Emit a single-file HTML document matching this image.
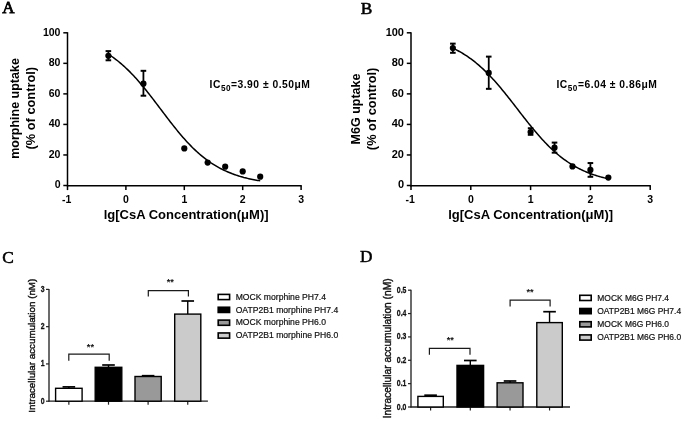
<!DOCTYPE html>
<html><head><meta charset="utf-8"><style>
html,body{margin:0;padding:0;background:#fff;}
body{width:685px;height:421px;overflow:hidden;position:relative;}
svg{position:absolute;left:0;top:0;filter:grayscale(1) blur(0.3px);}
</style></head><body>
<svg width="685" height="421" viewBox="0 0 685 421">
<text x="2.20" y="13.40" font-family='"Liberation Serif", serif' font-size="17" font-weight="normal" text-anchor="start" fill="#000" stroke="#000" stroke-width="0.8">A</text>
<text x="360.80" y="13.70" font-family='"Liberation Serif", serif' font-size="17.3" font-weight="normal" text-anchor="start" fill="#000" stroke="#000" stroke-width="0.55">B</text>
<text x="2.30" y="262.60" font-family='"Liberation Serif", serif' font-size="17.3" font-weight="normal" text-anchor="start" fill="#000" stroke="#000" stroke-width="0.55">C</text>
<text x="360.00" y="262.30" font-family='"Liberation Serif", serif' font-size="17.3" font-weight="normal" text-anchor="start" fill="#000" stroke="#000" stroke-width="0.55">D</text>
<line x1="67.50" y1="32.20" x2="67.50" y2="186.40" stroke="#000" stroke-width="1.5"/>
<line x1="63.30" y1="185.50" x2="67.50" y2="185.50" stroke="#000" stroke-width="1.5"/>
<text x="60.50" y="188.25" font-family='"Liberation Sans", sans-serif' font-size="11" font-weight="bold" text-anchor="end" fill="#000" textLength="5.87" lengthAdjust="spacingAndGlyphs">0</text>
<line x1="63.30" y1="154.96" x2="67.50" y2="154.96" stroke="#000" stroke-width="1.5"/>
<text x="60.50" y="157.71" font-family='"Liberation Sans", sans-serif' font-size="11" font-weight="bold" text-anchor="end" fill="#000" textLength="11.74" lengthAdjust="spacingAndGlyphs">20</text>
<line x1="63.30" y1="124.42" x2="67.50" y2="124.42" stroke="#000" stroke-width="1.5"/>
<text x="60.50" y="127.17" font-family='"Liberation Sans", sans-serif' font-size="11" font-weight="bold" text-anchor="end" fill="#000" textLength="11.74" lengthAdjust="spacingAndGlyphs">40</text>
<line x1="63.30" y1="93.88" x2="67.50" y2="93.88" stroke="#000" stroke-width="1.5"/>
<text x="60.50" y="96.63" font-family='"Liberation Sans", sans-serif' font-size="11" font-weight="bold" text-anchor="end" fill="#000" textLength="11.74" lengthAdjust="spacingAndGlyphs">60</text>
<line x1="63.30" y1="63.34" x2="67.50" y2="63.34" stroke="#000" stroke-width="1.5"/>
<text x="60.50" y="66.09" font-family='"Liberation Sans", sans-serif' font-size="11" font-weight="bold" text-anchor="end" fill="#000" textLength="11.74" lengthAdjust="spacingAndGlyphs">80</text>
<line x1="63.30" y1="32.80" x2="67.50" y2="32.80" stroke="#000" stroke-width="1.5"/>
<text x="60.50" y="35.55" font-family='"Liberation Sans", sans-serif' font-size="11" font-weight="bold" text-anchor="end" fill="#000" textLength="17.61" lengthAdjust="spacingAndGlyphs">100</text>
<line x1="66.90" y1="185.70" x2="301.70" y2="185.70" stroke="#000" stroke-width="1.6"/>
<line x1="67.50" y1="185.50" x2="67.50" y2="190.10" stroke="#000" stroke-width="1.5"/>
<text x="66.70" y="202.90" font-family='"Liberation Sans", sans-serif' font-size="10.5" font-weight="bold" text-anchor="middle" fill="#000" >-1</text>
<line x1="125.90" y1="185.50" x2="125.90" y2="190.10" stroke="#000" stroke-width="1.5"/>
<text x="125.90" y="202.90" font-family='"Liberation Sans", sans-serif' font-size="10.5" font-weight="bold" text-anchor="middle" fill="#000" >0</text>
<line x1="184.30" y1="185.50" x2="184.30" y2="190.10" stroke="#000" stroke-width="1.5"/>
<text x="184.30" y="202.90" font-family='"Liberation Sans", sans-serif' font-size="10.5" font-weight="bold" text-anchor="middle" fill="#000" >1</text>
<line x1="242.70" y1="185.50" x2="242.70" y2="190.10" stroke="#000" stroke-width="1.5"/>
<text x="242.70" y="202.90" font-family='"Liberation Sans", sans-serif' font-size="10.5" font-weight="bold" text-anchor="middle" fill="#000" >2</text>
<line x1="301.10" y1="185.50" x2="301.10" y2="190.10" stroke="#000" stroke-width="1.5"/>
<text x="301.10" y="202.90" font-family='"Liberation Sans", sans-serif' font-size="10.5" font-weight="bold" text-anchor="middle" fill="#000" >3</text>
<text x="186.10" y="219.00" font-family='"Liberation Sans", sans-serif' font-size="13" font-weight="bold" text-anchor="middle" fill="#000" >lg[CsA Concentration(μM)]</text>
<text transform="translate(19.30,108.50) rotate(-90)" font-family='"Liberation Sans", sans-serif' font-size="12.5" font-weight="bold" text-anchor="middle">morphine uptake</text>
<text transform="translate(34.80,108.20) rotate(-90)" font-family='"Liberation Sans", sans-serif' font-size="12.8" font-weight="bold" text-anchor="middle">(% of control)</text>
<polyline points="108.38,54.21 109.65,55.03 110.91,55.88 112.18,56.75 113.44,57.65 114.71,58.58 115.97,59.53 117.24,60.52 118.50,61.53 119.77,62.56 121.03,63.63 122.30,64.72 123.56,65.85 124.83,67.00 126.09,68.18 127.36,69.38 128.63,70.62 129.89,71.88 131.16,73.17 132.42,74.49 133.69,75.83 134.95,77.20 136.22,78.60 137.48,80.02 138.75,81.46 140.01,82.93 141.28,84.42 142.54,85.93 143.81,87.46 145.07,89.01 146.34,90.58 147.61,92.16 148.87,93.76 150.14,95.38 151.40,97.01 152.67,98.65 153.93,100.29 155.20,101.95 156.46,103.62 157.73,105.29 158.99,106.96 160.26,108.63 161.52,110.31 162.79,111.98 164.05,113.66 165.32,115.32 166.59,116.99 167.85,118.64 169.12,120.29 170.38,121.92 171.65,123.54 172.91,125.15 174.18,126.75 175.44,128.33 176.71,129.89 177.97,131.43 179.24,132.95 180.50,134.46 181.77,135.94 183.03,137.40 184.30,138.83 185.57,140.24 186.83,141.63 188.10,142.99 189.36,144.32 190.63,145.63 191.89,146.91 193.16,148.16 194.42,149.38 195.69,150.58 196.95,151.75 198.22,152.89 199.48,154.00 200.75,155.08 202.01,156.14 203.28,157.17 204.55,158.17 205.81,159.14 207.08,160.08 208.34,161.00 209.61,161.89 210.87,162.75 212.14,163.59 213.40,164.40 214.67,165.18 215.93,165.94 217.20,166.68 218.46,167.39 219.73,168.08 220.99,168.75 222.26,169.39 223.53,170.01 224.79,170.61 226.06,171.19 227.32,171.75 228.59,172.29 229.85,172.81 231.12,173.31 232.38,173.80 233.65,174.26 234.91,174.71 236.18,175.14 237.44,175.56 238.71,175.96 239.97,176.35 241.24,176.72 242.51,177.07 243.77,177.42 245.04,177.74 246.30,178.06 247.57,178.37 248.83,178.66 250.10,178.94 251.36,179.21 252.63,179.47 253.89,179.72 255.16,179.96 256.42,180.19 257.69,180.41 258.95,180.62 260.22,180.82" fill="none" stroke="#000" stroke-width="1.5"/>
<line x1="108.38" y1="51.12" x2="108.38" y2="60.29" stroke="#000" stroke-width="1.8"/>
<line x1="105.58" y1="51.12" x2="111.18" y2="51.12" stroke="#000" stroke-width="2.0"/>
<line x1="105.58" y1="60.29" x2="111.18" y2="60.29" stroke="#000" stroke-width="2.0"/>
<circle cx="108.38" cy="55.86" r="3.1" fill="#000"/>
<line x1="143.42" y1="70.82" x2="143.42" y2="95.71" stroke="#000" stroke-width="1.8"/>
<line x1="140.62" y1="70.82" x2="146.22" y2="70.82" stroke="#000" stroke-width="2.0"/>
<line x1="140.62" y1="95.71" x2="146.22" y2="95.71" stroke="#000" stroke-width="2.0"/>
<circle cx="143.42" cy="83.65" r="3.1" fill="#000"/>
<circle cx="184.30" cy="148.39" r="3.1" fill="#000"/>
<circle cx="207.66" cy="162.59" r="3.1" fill="#000"/>
<circle cx="225.18" cy="166.72" r="3.1" fill="#000"/>
<circle cx="242.70" cy="171.45" r="3.1" fill="#000"/>
<circle cx="260.22" cy="176.64" r="3.1" fill="#000"/>
<text x="209.60" y="88.30" font-family='"Liberation Sans", sans-serif' font-size="10.3" font-weight="bold" letter-spacing="0.5">IC<tspan font-size="8.2" dy="3.0">50</tspan><tspan dy="-3.0">=3.90 ± 0.50μM</tspan></text>
<line x1="411.00" y1="32.20" x2="411.00" y2="186.40" stroke="#000" stroke-width="1.5"/>
<line x1="406.80" y1="185.50" x2="411.00" y2="185.50" stroke="#000" stroke-width="1.5"/>
<text x="404.00" y="188.25" font-family='"Liberation Sans", sans-serif' font-size="11" font-weight="bold" text-anchor="end" fill="#000" textLength="6.12" lengthAdjust="spacingAndGlyphs">0</text>
<line x1="406.80" y1="154.96" x2="411.00" y2="154.96" stroke="#000" stroke-width="1.5"/>
<text x="404.00" y="157.71" font-family='"Liberation Sans", sans-serif' font-size="11" font-weight="bold" text-anchor="end" fill="#000" textLength="12.23" lengthAdjust="spacingAndGlyphs">20</text>
<line x1="406.80" y1="124.42" x2="411.00" y2="124.42" stroke="#000" stroke-width="1.5"/>
<text x="404.00" y="127.17" font-family='"Liberation Sans", sans-serif' font-size="11" font-weight="bold" text-anchor="end" fill="#000" textLength="12.23" lengthAdjust="spacingAndGlyphs">40</text>
<line x1="406.80" y1="93.88" x2="411.00" y2="93.88" stroke="#000" stroke-width="1.5"/>
<text x="404.00" y="96.63" font-family='"Liberation Sans", sans-serif' font-size="11" font-weight="bold" text-anchor="end" fill="#000" textLength="12.23" lengthAdjust="spacingAndGlyphs">60</text>
<line x1="406.80" y1="63.34" x2="411.00" y2="63.34" stroke="#000" stroke-width="1.5"/>
<text x="404.00" y="66.09" font-family='"Liberation Sans", sans-serif' font-size="11" font-weight="bold" text-anchor="end" fill="#000" textLength="12.23" lengthAdjust="spacingAndGlyphs">80</text>
<line x1="406.80" y1="32.80" x2="411.00" y2="32.80" stroke="#000" stroke-width="1.5"/>
<text x="404.00" y="35.55" font-family='"Liberation Sans", sans-serif' font-size="11" font-weight="bold" text-anchor="end" fill="#000" textLength="18.35" lengthAdjust="spacingAndGlyphs">100</text>
<line x1="410.40" y1="185.70" x2="650.80" y2="185.70" stroke="#000" stroke-width="1.6"/>
<line x1="411.00" y1="185.50" x2="411.00" y2="190.10" stroke="#000" stroke-width="1.5"/>
<text x="410.20" y="202.90" font-family='"Liberation Sans", sans-serif' font-size="10.5" font-weight="bold" text-anchor="middle" fill="#000" >-1</text>
<line x1="470.80" y1="185.50" x2="470.80" y2="190.10" stroke="#000" stroke-width="1.5"/>
<text x="470.80" y="202.90" font-family='"Liberation Sans", sans-serif' font-size="10.5" font-weight="bold" text-anchor="middle" fill="#000" >0</text>
<line x1="530.60" y1="185.50" x2="530.60" y2="190.10" stroke="#000" stroke-width="1.5"/>
<text x="530.60" y="202.90" font-family='"Liberation Sans", sans-serif' font-size="10.5" font-weight="bold" text-anchor="middle" fill="#000" >1</text>
<line x1="590.40" y1="185.50" x2="590.40" y2="190.10" stroke="#000" stroke-width="1.5"/>
<text x="590.40" y="202.90" font-family='"Liberation Sans", sans-serif' font-size="10.5" font-weight="bold" text-anchor="middle" fill="#000" >2</text>
<line x1="650.20" y1="185.50" x2="650.20" y2="190.10" stroke="#000" stroke-width="1.5"/>
<text x="650.20" y="202.90" font-family='"Liberation Sans", sans-serif' font-size="10.5" font-weight="bold" text-anchor="middle" fill="#000" >3</text>
<text x="530.60" y="219.00" font-family='"Liberation Sans", sans-serif' font-size="13" font-weight="bold" text-anchor="middle" fill="#000" >lg[CsA Concentration(μM)]</text>
<text transform="translate(360.00,109.00) rotate(-90)" font-family='"Liberation Sans", sans-serif' font-size="12.5" font-weight="bold" text-anchor="middle">M6G uptake</text>
<text transform="translate(375.60,108.90) rotate(-90)" font-family='"Liberation Sans", sans-serif' font-size="12.8" font-weight="bold" text-anchor="middle">(% of control)</text>
<polyline points="452.86,48.16 454.16,48.78 455.45,49.42 456.75,50.08 458.04,50.77 459.34,51.47 460.63,52.21 461.93,52.96 463.23,53.74 464.52,54.55 465.82,55.38 467.11,56.24 468.41,57.12 469.70,58.03 471.00,58.97 472.30,59.94 473.59,60.93 474.89,61.95 476.18,63.00 477.48,64.08 478.77,65.19 480.07,66.32 481.36,67.48 482.66,68.67 483.96,69.89 485.25,71.14 486.55,72.41 487.84,73.72 489.14,75.04 490.43,76.40 491.73,77.78 493.03,79.19 494.32,80.62 495.62,82.07 496.91,83.55 498.21,85.04 499.50,86.56 500.80,88.10 502.10,89.66 503.39,91.23 504.69,92.83 505.98,94.43 507.28,96.05 508.57,97.69 509.87,99.33 511.17,100.98 512.46,102.64 513.76,104.31 515.05,105.98 516.35,107.65 517.64,109.33 518.94,111.01 520.23,112.68 521.53,114.35 522.83,116.02 524.12,117.67 525.42,119.33 526.71,120.97 528.01,122.60 529.30,124.21 530.60,125.82 531.90,127.41 533.19,128.98 534.49,130.53 535.78,132.07 537.08,133.58 538.37,135.07 539.67,136.55 540.97,137.99 542.26,139.42 543.56,140.82 544.85,142.19 546.15,143.54 547.44,144.87 548.74,146.16 550.03,147.43 551.33,148.67 552.63,149.88 553.92,151.07 555.22,152.23 556.51,153.35 557.81,154.45 559.10,155.53 560.40,156.57 561.70,157.58 562.99,158.57 564.29,159.53 565.58,160.46 566.88,161.37 568.17,162.25 569.47,163.10 570.77,163.93 572.06,164.73 573.36,165.50 574.65,166.25 575.95,166.98 577.24,167.68 578.54,168.36 579.84,169.02 581.13,169.65 582.43,170.27 583.72,170.86 585.02,171.43 586.31,171.98 587.61,172.51 588.90,173.02 590.20,173.52 591.50,173.99 592.79,174.45 594.09,174.89 595.38,175.32 596.68,175.73 597.97,176.12 599.27,176.50 600.57,176.87 601.86,177.22 603.16,177.55 604.45,177.88 605.75,178.19 607.04,178.49 608.34,178.78" fill="none" stroke="#000" stroke-width="1.5"/>
<line x1="452.86" y1="43.64" x2="452.86" y2="52.80" stroke="#000" stroke-width="1.8"/>
<line x1="450.06" y1="43.64" x2="455.66" y2="43.64" stroke="#000" stroke-width="2.0"/>
<line x1="450.06" y1="52.80" x2="455.66" y2="52.80" stroke="#000" stroke-width="2.0"/>
<circle cx="452.86" cy="48.07" r="3.1" fill="#000"/>
<line x1="488.74" y1="56.62" x2="488.74" y2="88.84" stroke="#000" stroke-width="1.8"/>
<line x1="485.94" y1="56.62" x2="491.54" y2="56.62" stroke="#000" stroke-width="2.0"/>
<line x1="485.94" y1="88.84" x2="491.54" y2="88.84" stroke="#000" stroke-width="2.0"/>
<circle cx="488.74" cy="72.96" r="3.1" fill="#000"/>
<line x1="530.60" y1="128.24" x2="530.60" y2="134.80" stroke="#000" stroke-width="1.8"/>
<line x1="527.80" y1="128.24" x2="533.40" y2="128.24" stroke="#000" stroke-width="2.0"/>
<line x1="527.80" y1="134.80" x2="533.40" y2="134.80" stroke="#000" stroke-width="2.0"/>
<circle cx="530.60" cy="132.06" r="3.1" fill="#000"/>
<line x1="554.52" y1="142.59" x2="554.52" y2="152.67" stroke="#000" stroke-width="1.8"/>
<line x1="551.72" y1="142.59" x2="557.32" y2="142.59" stroke="#000" stroke-width="2.0"/>
<line x1="551.72" y1="152.67" x2="557.32" y2="152.67" stroke="#000" stroke-width="2.0"/>
<circle cx="554.52" cy="147.63" r="3.1" fill="#000"/>
<circle cx="572.46" cy="166.41" r="3.1" fill="#000"/>
<line x1="590.40" y1="163.05" x2="590.40" y2="176.80" stroke="#000" stroke-width="1.8"/>
<line x1="587.60" y1="163.05" x2="593.20" y2="163.05" stroke="#000" stroke-width="2.0"/>
<line x1="587.60" y1="176.80" x2="593.20" y2="176.80" stroke="#000" stroke-width="2.0"/>
<circle cx="590.40" cy="169.92" r="3.1" fill="#000"/>
<circle cx="608.34" cy="177.56" r="3.1" fill="#000"/>
<text x="556.50" y="88.30" font-family='"Liberation Sans", sans-serif' font-size="10.3" font-weight="bold" letter-spacing="0.5">IC<tspan font-size="8.2" dy="3.0">50</tspan><tspan dy="-3.0">=6.04 ± 0.86μM</tspan></text>
<line x1="49.00" y1="288.89" x2="49.00" y2="401.70" stroke="#3a3a3a" stroke-width="1.5"/>
<line x1="46.00" y1="401.20" x2="49.00" y2="401.20" stroke="#222" stroke-width="1.2"/>
<text x="44.60" y="403.70" font-family='"Liberation Sans", sans-serif' font-size="9.3" font-weight="bold" text-anchor="end" fill="#111" stroke="#111" stroke-width="0.3" textLength="3.83" lengthAdjust="spacingAndGlyphs">0</text>
<line x1="46.00" y1="363.93" x2="49.00" y2="363.93" stroke="#222" stroke-width="1.2"/>
<text x="44.60" y="366.43" font-family='"Liberation Sans", sans-serif' font-size="9.3" font-weight="bold" text-anchor="end" fill="#111" stroke="#111" stroke-width="0.3" textLength="3.83" lengthAdjust="spacingAndGlyphs">1</text>
<line x1="46.00" y1="326.66" x2="49.00" y2="326.66" stroke="#222" stroke-width="1.2"/>
<text x="44.60" y="329.16" font-family='"Liberation Sans", sans-serif' font-size="9.3" font-weight="bold" text-anchor="end" fill="#111" stroke="#111" stroke-width="0.3" textLength="3.83" lengthAdjust="spacingAndGlyphs">2</text>
<line x1="46.00" y1="289.39" x2="49.00" y2="289.39" stroke="#222" stroke-width="1.2"/>
<text x="44.60" y="291.89" font-family='"Liberation Sans", sans-serif' font-size="9.3" font-weight="bold" text-anchor="end" fill="#111" stroke="#111" stroke-width="0.3" textLength="3.83" lengthAdjust="spacingAndGlyphs">3</text>
<line x1="48.50" y1="401.20" x2="207.90" y2="401.20" stroke="#222" stroke-width="1.3"/>
<line x1="68.85" y1="401.20" x2="68.85" y2="404.70" stroke="#222" stroke-width="1.2"/>
<line x1="68.85" y1="386.90" x2="68.85" y2="388.30" stroke="#000" stroke-width="1.4"/>
<line x1="62.55" y1="386.90" x2="75.15" y2="386.90" stroke="#000" stroke-width="1.7"/>
<rect x="55.60" y="388.30" width="26.50" height="12.90" fill="#fff" stroke="#000" stroke-width="1.4"/>
<line x1="108.50" y1="401.20" x2="108.50" y2="404.70" stroke="#222" stroke-width="1.2"/>
<line x1="108.50" y1="365.00" x2="108.50" y2="367.30" stroke="#000" stroke-width="1.4"/>
<line x1="102.20" y1="365.00" x2="114.80" y2="365.00" stroke="#000" stroke-width="1.7"/>
<rect x="95.20" y="367.30" width="26.60" height="33.90" fill="#000" stroke="#000" stroke-width="1.4"/>
<line x1="148.10" y1="401.20" x2="148.10" y2="404.70" stroke="#222" stroke-width="1.2"/>
<line x1="148.10" y1="375.70" x2="148.10" y2="376.50" stroke="#000" stroke-width="1.4"/>
<line x1="141.80" y1="375.70" x2="154.40" y2="375.70" stroke="#000" stroke-width="1.7"/>
<rect x="135.00" y="376.50" width="26.20" height="24.70" fill="#999" stroke="#000" stroke-width="1.4"/>
<line x1="187.75" y1="401.20" x2="187.75" y2="404.70" stroke="#222" stroke-width="1.2"/>
<line x1="187.75" y1="301.00" x2="187.75" y2="314.10" stroke="#000" stroke-width="1.4"/>
<line x1="181.45" y1="301.00" x2="194.05" y2="301.00" stroke="#000" stroke-width="1.7"/>
<rect x="174.70" y="314.10" width="26.10" height="87.10" fill="#cbcbcb" stroke="#000" stroke-width="1.4"/>
<polyline points="68.80,360.80 68.80,354.20 109.20,354.20 109.20,360.80" fill="none" stroke="#1a1a1a" stroke-width="1.2"/>
<text x="90.40" y="349.80" font-family='"Liberation Sans", sans-serif' font-size="9.2" font-weight="bold" text-anchor="middle" fill="#111" >**</text>
<polyline points="148.30,296.60 148.30,290.70 188.40,290.70 188.40,296.60" fill="none" stroke="#1a1a1a" stroke-width="1.2"/>
<text x="170.30" y="285.30" font-family='"Liberation Sans", sans-serif' font-size="9.2" font-weight="bold" text-anchor="middle" fill="#111" >**</text>
<text transform="translate(35.30,345.70) rotate(-90)" font-family='"Liberation Sans", sans-serif' font-size="9.8" text-anchor="middle" fill="#111" stroke="#111" stroke-width="0.4">Intracellular accumulation (nM)</text>
<rect x="218.20" y="294.40" width="11.4" height="5.2" fill="#fff" stroke="#000" stroke-width="1.6"/>
<text x="235.70" y="299.70" font-family='"Liberation Sans", sans-serif' font-size="8.6" font-weight="normal" text-anchor="start" fill="#111" stroke="#111" stroke-width="0.2">MOCK morphine PH7.4</text>
<rect x="218.20" y="307.25" width="11.4" height="5.2" fill="#000" stroke="#000" stroke-width="1.6"/>
<text x="235.70" y="312.55" font-family='"Liberation Sans", sans-serif' font-size="8.6" font-weight="normal" text-anchor="start" fill="#111" stroke="#111" stroke-width="0.2">OATP2B1 morphine PH7.4</text>
<rect x="218.20" y="320.10" width="11.4" height="5.2" fill="#999" stroke="#000" stroke-width="1.6"/>
<text x="235.70" y="325.40" font-family='"Liberation Sans", sans-serif' font-size="8.6" font-weight="normal" text-anchor="start" fill="#111" stroke="#111" stroke-width="0.2">MOCK morphine PH6.0</text>
<rect x="218.20" y="332.95" width="11.4" height="5.2" fill="#ccc" stroke="#000" stroke-width="1.6"/>
<text x="235.70" y="338.25" font-family='"Liberation Sans", sans-serif' font-size="8.6" font-weight="normal" text-anchor="start" fill="#111" stroke="#111" stroke-width="0.2">OATP2B1 morphine PH6.0</text>
<line x1="411.00" y1="289.70" x2="411.00" y2="407.50" stroke="#3a3a3a" stroke-width="1.5"/>
<line x1="408.00" y1="407.00" x2="411.00" y2="407.00" stroke="#222" stroke-width="1.2"/>
<text x="406.40" y="409.50" font-family='"Liberation Sans", sans-serif' font-size="9.3" font-weight="bold" text-anchor="end" fill="#111" stroke="#111" stroke-width="0.3" textLength="9.56" lengthAdjust="spacingAndGlyphs">0.0</text>
<line x1="408.00" y1="383.64" x2="411.00" y2="383.64" stroke="#222" stroke-width="1.2"/>
<text x="406.40" y="386.14" font-family='"Liberation Sans", sans-serif' font-size="9.3" font-weight="bold" text-anchor="end" fill="#111" stroke="#111" stroke-width="0.3" textLength="9.56" lengthAdjust="spacingAndGlyphs">0.1</text>
<line x1="408.00" y1="360.28" x2="411.00" y2="360.28" stroke="#222" stroke-width="1.2"/>
<text x="406.40" y="362.78" font-family='"Liberation Sans", sans-serif' font-size="9.3" font-weight="bold" text-anchor="end" fill="#111" stroke="#111" stroke-width="0.3" textLength="9.56" lengthAdjust="spacingAndGlyphs">0.2</text>
<line x1="408.00" y1="336.92" x2="411.00" y2="336.92" stroke="#222" stroke-width="1.2"/>
<text x="406.40" y="339.42" font-family='"Liberation Sans", sans-serif' font-size="9.3" font-weight="bold" text-anchor="end" fill="#111" stroke="#111" stroke-width="0.3" textLength="9.56" lengthAdjust="spacingAndGlyphs">0.3</text>
<line x1="408.00" y1="313.56" x2="411.00" y2="313.56" stroke="#222" stroke-width="1.2"/>
<text x="406.40" y="316.06" font-family='"Liberation Sans", sans-serif' font-size="9.3" font-weight="bold" text-anchor="end" fill="#111" stroke="#111" stroke-width="0.3" textLength="9.56" lengthAdjust="spacingAndGlyphs">0.4</text>
<line x1="408.00" y1="290.20" x2="411.00" y2="290.20" stroke="#222" stroke-width="1.2"/>
<text x="406.40" y="292.70" font-family='"Liberation Sans", sans-serif' font-size="9.3" font-weight="bold" text-anchor="end" fill="#111" stroke="#111" stroke-width="0.3" textLength="9.56" lengthAdjust="spacingAndGlyphs">0.5</text>
<line x1="410.50" y1="407.00" x2="570.00" y2="407.00" stroke="#222" stroke-width="1.3"/>
<line x1="430.60" y1="407.00" x2="430.60" y2="410.50" stroke="#222" stroke-width="1.2"/>
<line x1="430.60" y1="395.20" x2="430.60" y2="396.40" stroke="#000" stroke-width="1.4"/>
<line x1="424.30" y1="395.20" x2="436.90" y2="395.20" stroke="#000" stroke-width="1.7"/>
<rect x="417.90" y="396.40" width="25.40" height="10.60" fill="#fff" stroke="#000" stroke-width="1.4"/>
<line x1="470.30" y1="407.00" x2="470.30" y2="410.50" stroke="#222" stroke-width="1.2"/>
<line x1="470.30" y1="360.50" x2="470.30" y2="365.40" stroke="#000" stroke-width="1.4"/>
<line x1="464.00" y1="360.50" x2="476.60" y2="360.50" stroke="#000" stroke-width="1.7"/>
<rect x="457.00" y="365.40" width="26.60" height="41.60" fill="#000" stroke="#000" stroke-width="1.4"/>
<line x1="510.05" y1="407.00" x2="510.05" y2="410.50" stroke="#222" stroke-width="1.2"/>
<line x1="510.05" y1="381.00" x2="510.05" y2="382.80" stroke="#000" stroke-width="1.4"/>
<line x1="503.75" y1="381.00" x2="516.35" y2="381.00" stroke="#000" stroke-width="1.7"/>
<rect x="497.10" y="382.80" width="25.90" height="24.20" fill="#999" stroke="#000" stroke-width="1.4"/>
<line x1="549.55" y1="407.00" x2="549.55" y2="410.50" stroke="#222" stroke-width="1.2"/>
<line x1="549.55" y1="311.70" x2="549.55" y2="322.60" stroke="#000" stroke-width="1.4"/>
<line x1="543.25" y1="311.70" x2="555.85" y2="311.70" stroke="#000" stroke-width="1.7"/>
<rect x="536.80" y="322.60" width="25.50" height="84.40" fill="#cbcbcb" stroke="#000" stroke-width="1.4"/>
<polyline points="429.40,354.80 429.40,348.40 470.00,348.40 470.00,354.80" fill="none" stroke="#1a1a1a" stroke-width="1.2"/>
<text x="450.30" y="343.00" font-family='"Liberation Sans", sans-serif' font-size="9.2" font-weight="bold" text-anchor="middle" fill="#111" >**</text>
<polyline points="510.10,306.60 510.10,300.10 550.10,300.10 550.10,306.60" fill="none" stroke="#1a1a1a" stroke-width="1.2"/>
<text x="530.00" y="294.90" font-family='"Liberation Sans", sans-serif' font-size="9.2" font-weight="bold" text-anchor="middle" fill="#111" >**</text>
<text transform="translate(390.90,348.30) rotate(-90)" font-family='"Liberation Sans", sans-serif' font-size="10.24" text-anchor="middle" fill="#111" stroke="#111" stroke-width="0.4">Intracellular accumulation (nM)</text>
<rect x="579.80" y="295.30" width="11.4" height="5.2" fill="#fff" stroke="#000" stroke-width="1.6"/>
<text x="597.30" y="300.60" font-family='"Liberation Sans", sans-serif' font-size="8.45" font-weight="normal" text-anchor="start" fill="#111" stroke="#111" stroke-width="0.2">MOCK M6G PH7.4</text>
<rect x="579.80" y="308.50" width="11.4" height="5.2" fill="#000" stroke="#000" stroke-width="1.6"/>
<text x="597.30" y="313.80" font-family='"Liberation Sans", sans-serif' font-size="8.45" font-weight="normal" text-anchor="start" fill="#111" stroke="#111" stroke-width="0.2">OATP2B1 M6G PH7.4</text>
<rect x="579.80" y="321.70" width="11.4" height="5.2" fill="#999" stroke="#000" stroke-width="1.6"/>
<text x="597.30" y="327.00" font-family='"Liberation Sans", sans-serif' font-size="8.45" font-weight="normal" text-anchor="start" fill="#111" stroke="#111" stroke-width="0.2">MOCK M6G PH6.0</text>
<rect x="579.80" y="334.90" width="11.4" height="5.2" fill="#ccc" stroke="#000" stroke-width="1.6"/>
<text x="597.30" y="340.20" font-family='"Liberation Sans", sans-serif' font-size="8.45" font-weight="normal" text-anchor="start" fill="#111" stroke="#111" stroke-width="0.2">OATP2B1 M6G PH6.0</text>
</svg>
</body></html>
